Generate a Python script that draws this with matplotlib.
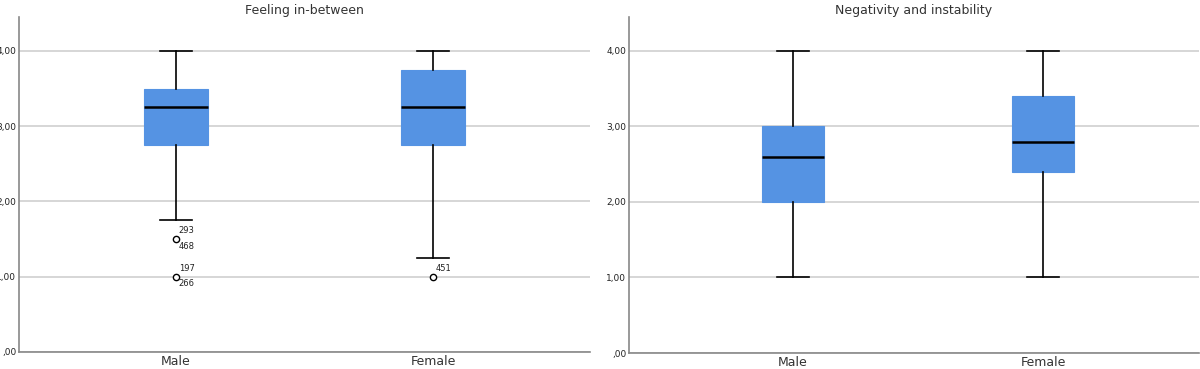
import numpy as np
import matplotlib.pyplot as plt

groups = ["Male", "Female"]
titles = ["Feeling in-between", "Negativity and instability"]

# five-number summaries per panel: [whislo, q1, med, q3, whishi]
feeling = [[1.75, 2.75, 3.25, 3.50, 4.00],
           [1.25, 2.75, 3.25, 3.75, 4.00]]
negativity = [[1.00, 2.00, 2.60, 3.00, 4.00],
              [1.00, 2.40, 2.80, 3.40, 4.00]]

# outliers: value and case labels
feeling_outliers = [[(1.5, "293", "468"), (1.0, "197", "266")],
                    [(1.0, "451", None)]]
negativity_outliers = [[], []]

box_color = "#5593e3"


def make_stats(summary, outliers):
    stats = []
    for s, outs in zip(summary, outliers):
        stats.append(dict(whislo=s[0], q1=s[1], med=s[2], q3=s[3], whishi=s[4],
                          fliers=[o[0] for o in outs]))
    return stats


def draw_panel(ax, title, summary, outliers):
    stats = make_stats(summary, outliers)
    pos = np.arange(len(groups))
    ax.bxp(stats, positions=pos, widths=0.25, patch_artist=True,
           boxprops=dict(facecolor=box_color, edgecolor=box_color, linewidth=0.8),
           medianprops=dict(color="black", linewidth=1.8),
           whiskerprops=dict(color="black", linewidth=1.2),
           capprops=dict(color="black", linewidth=1.2),
           capwidths=0.125,
           flierprops=dict(marker="o", markersize=4.5, markerfacecolor="white",
                           markeredgecolor="black", markeredgewidth=1.0),
           zorder=3)
    for i, outs in enumerate(outliers):
        for val, above, below in outs:
            if above:
                ax.annotate(above, (pos[i], val), xytext=(2, 3), textcoords="offset points",
                            fontsize=6, color="#222222", ha="left", va="bottom")
            if below:
                ax.annotate(below, (pos[i], val), xytext=(2, -2), textcoords="offset points",
                            fontsize=6, color="#222222", ha="left", va="top")
    ax.set_ylim(0, 4.45)
    ax.set_yticks([0, 1, 2, 3, 4])
    ax.set_yticklabels([",00", "1,00", "2,00", "3,00", "4,00"], fontsize=6.5, color="#222222")
    ax.set_xticks(pos)
    ax.set_xticklabels(groups, fontsize=9, color="#333333")
    ax.tick_params(axis="y", length=0, pad=2)
    ax.tick_params(axis="x", length=0, pad=2)
    ax.yaxis.grid(True, color="#d0d0d0", linewidth=1.2, zorder=0)
    ax.set_axisbelow(True)
    for side in ["top", "right"]:
        ax.spines[side].set_visible(False)
    for side in ["left", "bottom"]:
        ax.spines[side].set_color("#888888")
        ax.spines[side].set_linewidth(1.2)
    ax.set_title(title, fontsize=9, color="#333333", pad=2.5)


fig = plt.figure(figsize=(12, 3.69), dpi=100)
ax1 = fig.add_axes([19 / 1200, 17 / 369, 571 / 1200, 335 / 369])
ax2 = fig.add_axes([629 / 1200, 16 / 369, 570 / 1200, 336 / 369])

draw_panel(ax1, titles[0], feeling, feeling_outliers)
ax1.set_xlim(-0.61, 1.61)
draw_panel(ax2, titles[1], negativity, negativity_outliers)
ax2.set_xlim(-0.656, 1.624)

fig.savefig("out.png", dpi=100)
